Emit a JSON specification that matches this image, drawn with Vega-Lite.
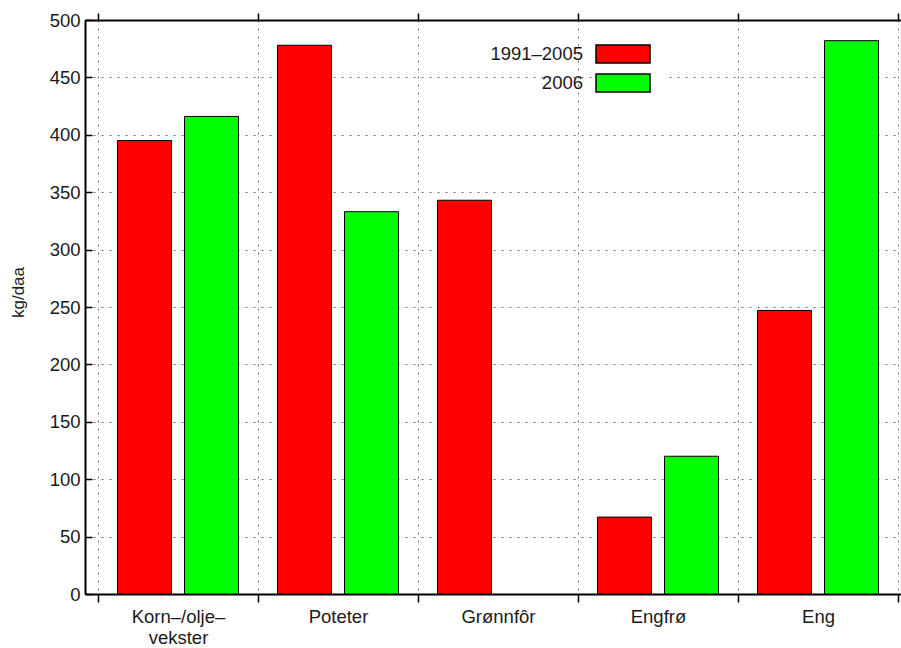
{
  "$schema": "https://vega.github.io/schema/vega-lite/v6.json",
  "width": 816,
  "height": 574,
  "autosize": {"type": "none"},
  "padding": {"left": 85, "top": 20, "right": 0, "bottom": 54},
  "background": "white",
  "config": {
    "view": {"stroke": null},
    "font": "Liberation Sans",
    "axis": {
      "domainColor": "black",
      "domainWidth": 2,
      "tickColor": "black",
      "tickWidth": 1.5,
      "labelFont": "Liberation Sans",
      "labelFontSize": 18.5,
      "labelColor": "#1a1a1a",
      "gridColor": "#6e6e6e",
      "gridDash": [2, 6],
      "gridWidth": 1
    }
  },
  "data": {
    "values": [
      {"crop": "Korn–/olje–\nvekster", "period": "1991–2005", "value": 395},
      {"crop": "Korn–/olje–\nvekster", "period": "2006", "value": 416},
      {"crop": "Poteter", "period": "1991–2005", "value": 478},
      {"crop": "Poteter", "period": "2006", "value": 333},
      {"crop": "Grønnfôr", "period": "1991–2005", "value": 343},
      {"crop": "Engfrø", "period": "1991–2005", "value": 67},
      {"crop": "Engfrø", "period": "2006", "value": 120},
      {"crop": "Eng", "period": "1991–2005", "value": 247},
      {"crop": "Eng", "period": "2006", "value": 482}
    ]
  },
  "layer": [
    {
      "mark": {"type": "bar", "stroke": "black", "strokeWidth": 1},
      "encoding": {
        "x": {
          "field": "crop",
          "type": "nominal",
          "sort": null,
          "scale": {"paddingInner": 0, "paddingOuter": 0.05, "align": 0.8125},
          "axis": {
            "orient": "bottom",
            "title": null,
            "tickBand": "extent",
            "grid": true,
            "tickSize": 8,
            "labelAngle": 0,
            "labelExpr": "split(datum.label, '\\n')",
            "labelLineHeight": 21,
            "labelPadding": 5
          }
        },
        "xOffset": {
          "field": "period",
          "type": "nominal",
          "sort": null,
          "scale": {"paddingInner": 0.194, "paddingOuter": 0.291}
        },
        "y": {
          "field": "value",
          "type": "quantitative",
          "scale": {"domain": [0, 500], "nice": false},
          "axis": {
            "title": "kg/daa",
            "titleFont": "Liberation Sans",
            "titleFontSize": 17,
            "titleFontWeight": "normal",
            "titleColor": "#1a1a1a",
            "titleAngle": -90,
            "titleAlign": "center",
            "titleBaseline": "alphabetic",
            "titleX": -62,
            "titleY": 272,
            "values": [0, 50, 100, 150, 200, 250, 300, 350, 400, 450, 500],
            "grid": true,
            "tickSize": -7,
            "labelPadding": 12
          }
        },
        "color": {
          "field": "period",
          "type": "nominal",
          "sort": null,
          "scale": {"domain": ["1991–2005", "2006"], "range": ["#ff0000", "#00ff00"]},
          "legend": {
            "orient": "none",
            "legendX": 514,
            "legendY": 10,
            "title": null,
            "fillColor": "white",
            "padding": 14,
            "symbolType": "M-3,-1H3V1H-3Z",
            "symbolSize": 324,
            "symbolStrokeColor": "black",
            "symbolStrokeWidth": 1.5,
            "symbolOpacity": 1,
            "labelAlign": "right",
            "labelOffset": -50,
            "labelFont": "Liberation Sans",
            "labelFontSize": 18.5,
            "labelColor": "#1a1a1a",
            "rowPadding": 5
          }
        }
      }
    },
    {
      "mark": {"type": "bar", "opacity": 0},
      "encoding": {
        "x": {
          "field": "crop",
          "type": "nominal",
          "sort": null,
          "axis": {
            "orient": "top",
            "title": null,
            "labels": false,
            "grid": false,
            "tickBand": "extent",
            "tickSize": 7
          }
        },
        "xOffset": {"field": "period", "type": "nominal", "sort": null},
        "y": {"field": "value", "type": "quantitative"}
      }
    }
  ],
  "resolve": {"axis": {"x": "independent"}}
}
